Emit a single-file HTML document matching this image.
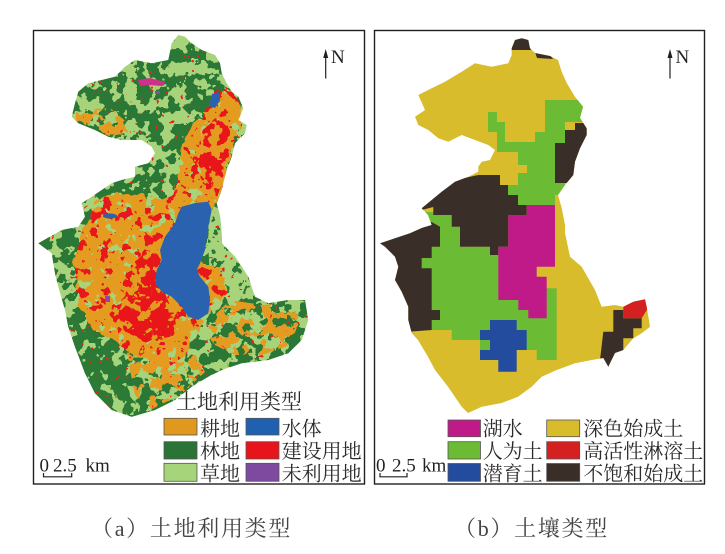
<!DOCTYPE html>
<html><head><meta charset="utf-8">
<style>
html,body{margin:0;padding:0;background:#fff;}
body{width:725px;height:554px;overflow:hidden;}
svg{display:block;}
.cj{font-family:"Liberation Serif","Noto Serif CJK SC",serif;}
</style></head>
<body>
<svg width="725" height="554" viewBox="0 0 725 554" xmlns="http://www.w3.org/2000/svg">
<defs>
  <clipPath id="clipL"><polygon points="178.3,35 185,36.7 191.7,43.3 201.7,50 215,55 220,63.3 221.7,73.3 226.7,83.3 231.7,91.7 238.3,96.7 243.3,108.3 238.3,120 246.7,125 245,133.3 235,143.3 231.7,156.7 226.7,170 221.7,190 216.7,203.3 220,216.7 221.7,233.3 221.7,243.3 235,256.7 248.3,276.7 255,296.7 268.3,303.3 288.3,300 305,300 308.3,320 301.7,340 288.3,353.3 268.3,360 241.7,363.3 221.7,370 208.3,376.7 191.7,386.7 175,400 155,410 131.7,416.7 111.7,410 95,393.3 85,373.3 75,346.7 68.3,326.7 65,310 58.3,286.7 55,273.3 51.7,253.3 38.3,243.3 61.7,230 78.3,226.7 85,216.7 81.7,203.3 91.7,196.7 101.7,190 111.7,183.3 121.7,180 135,176.7 135,166.7 148.3,163.3 155,153.3 151.7,146.7 141.7,140 121.7,140 108.3,136.7 95,130 78.3,123.3 71.7,116.7 75,103.3 78.3,91.7 88.3,83.3 101.7,80 115,76.7 125,66.7 135,60 151.7,63.3 168.3,60 171.7,43.3"/></clipPath>

  <filter id="rough" filterUnits="userSpaceOnUse" x="0" y="0" width="725" height="554" color-interpolation-filters="sRGB">
    <feGaussianBlur in="SourceAlpha" stdDeviation="4" result="b"/>
    <feTurbulence type="fractalNoise" baseFrequency="0.1" numOctaves="2" seed="41" result="n"/>
    <feColorMatrix in="n" type="matrix" values="0 0 0 0 0  0 0 0 0 0  0 0 0 0 0  1 0 0 0 0" result="na"/>
    <feComposite in="b" in2="na" operator="arithmetic" k1="0" k2="1" k3="1" k4="-0.5" result="c"/>
    <feComponentTransfer in="c" result="t"><feFuncA type="discrete" tableValues="0 1"/></feComponentTransfer>
    <feFlood flood-color="#ffffff" result="w"/>
    <feComposite in="w" in2="t" operator="in"/>
  </filter>

  <mask id="mOr" maskUnits="userSpaceOnUse" x="0" y="0" width="725" height="554">
    <polygon filter="url(#rough)" fill="#fff" points="215,93 228,88 240,100 243,115 238,135 232,150 228,170 222,192 217,205 210,215 200,240 198,265 222,267 228,287 222,300 212,308 205,322 198,333 188,350 176,363 162,366 145,360 128,352 118,340 102,336 88,325 80,308 76,290 74,270 76,248 82,235 90,220 94,205 102,196 115,190 140,196 160,200 172,195 180,175 180,150 192,127 205,112"/>
  </mask>
  <mask id="mRedA" maskUnits="userSpaceOnUse" x="0" y="0" width="725" height="554">
    <g filter="url(#rough)" fill="#fff">
      <polygon points="122,298 138,288 160,292 172,305 176,325 166,338 146,342 128,334 118,318"/>
      <polygon points="140,252 158,250 162,265 160,288 146,290 136,275"/>
    </g>
  </mask>
  <mask id="mRedB" maskUnits="userSpaceOnUse" x="0" y="0" width="725" height="554">
    <polygon filter="url(#rough)" fill="#fff" points="205,128 220,118 232,133 228,160 222,185 215,200 205,197 200,172 198,148"/>
  </mask>
  <mask id="mDG" maskUnits="userSpaceOnUse" x="0" y="0" width="725" height="554">
    <polygon filter="url(#rough)" fill="#fff" points="52,312 68,318 85,330 100,338 118,345 126,362 124,382 132,398 140,420 90,420 60,350"/>
  </mask>
  <clipPath id="lgZone"><polygon points="211,205 222,210 225,240 240,262 248,280 240,300 225,310 215,300 210,280 208,240"/></clipPath>
  <clipPath id="mixOr"><polygon points="125,345 190,345 205,372 180,395 150,410 135,395"/></clipPath>
  <clipPath id="eastOr"><polygon points="230,300 262,305 290,303 300,320 290,345 262,355 235,355 215,345 205,335 215,315"/></clipPath>
  <clipPath id="nwOr"><polygon points="76,110 110,108 130,125 125,140 95,132 76,124"/></clipPath>

  <filter id="fDG" filterUnits="userSpaceOnUse" x="33" y="30" width="290" height="400" color-interpolation-filters="sRGB">
    <feTurbulence type="fractalNoise" baseFrequency="0.08" numOctaves="3" seed="4"/>
    <feColorMatrix type="matrix" values="0 0 0 0 0.17  0 0 0 0 0.47  0 0 0 0 0.21  4 0 0 0 -1.45"/>
    <feComponentTransfer><feFuncA type="discrete" tableValues="0 1"/></feComponentTransfer>
  </filter>
  <filter id="fDGs" filterUnits="userSpaceOnUse" x="33" y="30" width="290" height="400" color-interpolation-filters="sRGB">
    <feTurbulence type="fractalNoise" baseFrequency="0.09" numOctaves="3" seed="14"/>
    <feColorMatrix type="matrix" values="0 0 0 0 0.17  0 0 0 0 0.47  0 0 0 0 0.21  4 0 0 0 -1.95"/>
    <feComponentTransfer><feFuncA type="discrete" tableValues="0 1"/></feComponentTransfer>
  </filter>
  <filter id="fLG" filterUnits="userSpaceOnUse" x="33" y="30" width="290" height="400" color-interpolation-filters="sRGB">
    <feTurbulence type="fractalNoise" baseFrequency="0.08" numOctaves="3" seed="9"/>
    <feColorMatrix type="matrix" values="0 0 0 0 0.65  0 0 0 0 0.83  0 0 0 0 0.48  4 0 0 0 -1.85"/>
    <feComponentTransfer><feFuncA type="discrete" tableValues="0 1"/></feComponentTransfer>
  </filter>
  <filter id="fLGs" filterUnits="userSpaceOnUse" x="33" y="30" width="290" height="400" color-interpolation-filters="sRGB">
    <feTurbulence type="fractalNoise" baseFrequency="0.09" numOctaves="3" seed="12"/>
    <feColorMatrix type="matrix" values="0 0 0 0 0.65  0 0 0 0 0.83  0 0 0 0 0.48  4 0 0 0 -2.05"/>
    <feComponentTransfer><feFuncA type="discrete" tableValues="0 1"/></feComponentTransfer>
  </filter>
  <filter id="fRed" filterUnits="userSpaceOnUse" x="33" y="30" width="290" height="400" color-interpolation-filters="sRGB">
    <feTurbulence type="fractalNoise" baseFrequency="0.09" numOctaves="3" seed="21"/>
    <feColorMatrix type="matrix" values="0 0 0 0 0.91  0 0 0 0 0.09  0 0 0 0 0.11  4 0 0 0 -1.98"/>
    <feComponentTransfer><feFuncA type="discrete" tableValues="0 1"/></feComponentTransfer>
  </filter>
  <filter id="fOrA" filterUnits="userSpaceOnUse" x="33" y="30" width="290" height="400" color-interpolation-filters="sRGB">
    <feTurbulence type="fractalNoise" baseFrequency="0.09" numOctaves="3" seed="5"/>
    <feColorMatrix type="matrix" values="0 0 0 0 0.89  0 0 0 0 0.61  0 0 0 0 0.13  4 0 0 0 -1.8"/>
    <feComponentTransfer><feFuncA type="discrete" tableValues="0 1"/></feComponentTransfer>
  </filter>
  <filter id="fOrB" filterUnits="userSpaceOnUse" x="33" y="30" width="290" height="400" color-interpolation-filters="sRGB">
    <feTurbulence type="fractalNoise" baseFrequency="0.09" numOctaves="3" seed="6"/>
    <feColorMatrix type="matrix" values="0 0 0 0 0.89  0 0 0 0 0.61  0 0 0 0 0.13  4 0 0 0 -1.56"/>
    <feComponentTransfer><feFuncA type="discrete" tableValues="0 1"/></feComponentTransfer>
  </filter>
  <filter id="fOr2" filterUnits="userSpaceOnUse" x="33" y="30" width="290" height="400" color-interpolation-filters="sRGB">
    <feTurbulence type="fractalNoise" baseFrequency="0.08" numOctaves="3" seed="17"/>
    <feColorMatrix type="matrix" values="0 0 0 0 0.89  0 0 0 0 0.61  0 0 0 0 0.13  4 0 0 0 -1.62"/>
    <feComponentTransfer><feFuncA type="discrete" tableValues="0 1"/></feComponentTransfer>
  </filter>
  <filter id="fSpeck" filterUnits="userSpaceOnUse" x="33" y="30" width="290" height="400" color-interpolation-filters="sRGB">
    <feTurbulence type="fractalNoise" baseFrequency="0.2" numOctaves="2" seed="31"/>
    <feColorMatrix type="matrix" values="0 0 0 0 0.91  0 0 0 0 0.15  0 0 0 0 0.12  4 0 0 0 -2.5"/>
    <feComponentTransfer><feFuncA type="discrete" tableValues="0 1"/></feComponentTransfer>
  </filter>

  <clipPath id="clipR"><polygon points="511.7,55 511.7,48.3 515,40 521.7,38.3 528.3,40 530,48.3 535,53 550,56 558,60 561.7,71.7 566.7,83 575,96.7 583,106.7 580,118 586.7,128.3 586.7,135 580,148.3 575,161.7 573.3,175 565,185 558,195 561.7,208 565,225 565,233 570,256.7 581.7,266.7 595,290 601.7,306.7 615,305 623.3,306.7 633.3,301.7 645,299.3 646.7,306.7 650,326.7 641.7,333.3 633.3,338.3 623.3,350 615,353 608.3,366.7 603.3,358 591.7,360 575,363.3 556.7,370 541.7,376.7 531.7,386.7 518,396.7 501.7,403 481.7,406.7 468,413 461.7,406.7 448,386.7 435,370 428,356.7 418,340 411.7,333 408.3,320 408.3,306.7 401.7,291.7 395,280 398.3,266.7 395,256.7 385,246.7 380,243.3 395,238.3 410,233.3 421.7,228 431.7,225 428,215 421.7,208.3 431.7,200 441.7,191.7 455,181.7 468.3,176.7 478.3,171.7 478.3,166.7 481.7,161.7 490,160 495,150 488.3,145 475,140 461.7,135 448.3,141.7 438.3,138.3 428.3,130 418.3,125 415,116.7 425,110 418.3,95 431.7,88.3 445,81.7 461.7,71.7 475,63.3 491.7,66.7 508.3,63.3"/></clipPath>
</defs>

<rect x="0" y="0" width="725" height="554" fill="#fff"/>

<!-- LEFT MAP -->
<g clip-path="url(#clipL)">
  <rect x="33" y="30" width="290" height="400" fill="#a7d47b"/>
  <rect x="33" y="30" width="290" height="400" filter="url(#fDG)"/>
  <g clip-path="url(#nwOr)"><rect x="33" y="30" width="290" height="400" filter="url(#fOr2)"/></g>
  <g clip-path="url(#lgZone)">
    <rect x="33" y="30" width="290" height="400" fill="#a7d47b"/>
    <rect x="33" y="30" width="290" height="400" filter="url(#fDGs)"/>
  </g>
  <g mask="url(#mOr)">
    <rect x="33" y="30" width="290" height="400" fill="#e39b20"/>
    <rect x="33" y="30" width="290" height="400" filter="url(#fLGs)"/>
    <rect x="33" y="30" width="290" height="400" filter="url(#fRed)"/>
  </g>
  <g mask="url(#mRedA)">
    <rect x="33" y="30" width="290" height="400" fill="#e8161b"/>
    <rect x="33" y="30" width="290" height="400" filter="url(#fOrA)"/>
  </g>
  <g mask="url(#mRedB)">
    <rect x="33" y="30" width="290" height="400" fill="#e8161b"/>
    <rect x="33" y="30" width="290" height="400" filter="url(#fOrB)"/>
  </g>
  <g mask="url(#mDG)">
    <rect x="33" y="30" width="290" height="400" fill="#2b7a36"/>
    <rect x="33" y="30" width="290" height="400" filter="url(#fLG)"/>
  </g>
  <g clip-path="url(#mixOr)"><rect x="33" y="30" width="290" height="400" filter="url(#fOr2)"/></g>
  <g clip-path="url(#eastOr)"><rect x="33" y="30" width="290" height="400" filter="url(#fOr2)"/></g>
  <rect x="33" y="30" width="290" height="400" filter="url(#fSpeck)"/>
  <!-- lake -->
  <polygon fill="#2a62b0" points="181.7,206.7 195,203 208.3,201.7 211.7,210 208.3,226.7 205,250 200,263.3 196.7,270 200,276.7 208.3,286.7 210,300 208.3,313.3 198.3,320 188.3,316.7 181.7,306.7 171.7,296.7 161.7,291.7 155,283.3 156.7,270 161.7,260 160,250 165,236.7 175,223.3 178.3,213.3"/>
  <polygon fill="#2a62b0" points="212,94 219,92 220,100 215,108 209,106"/>
  <ellipse cx="110" cy="216" rx="7" ry="2.5" fill="#2a62b0"/>
  <polygon fill="#d0308a" points="138,80 150,78 165,82 163,86 148,85 140,86"/>
  <rect x="155" y="91" width="5" height="3" fill="#8a4aa8"/>
  <rect x="105" y="296" width="5" height="6" fill="#8a4aa8"/>
</g>

<!-- RIGHT MAP -->
<g clip-path="url(#clipR)">
  <rect x="374" y="30" width="331" height="400" fill="#d8bc2b"/>
  <polygon fill="#6bbb34" points="488,112 497,112 497,122 505,122 505,142 535,142 535,132 545,132 545,100 595,100 595,122 565,122 565,143 555,143 555,183 565,183 565,195 555,195 555,205 518,205 518,195 508,195 508,185 518,185 518,173 527,173 527,165 518,165 518,152 497,152 497,132 488,132"/>
  <polygon fill="#6bbb34" points="421.7,212 451.7,212 451.7,226.7 460,226.7 460,246.7 500,246.7 500,300 536.7,300 536.7,288.3 556.7,288.3 556.7,360 536.7,360 536.7,350 480,350 480,340 451.7,340 451.7,330 421.7,330"/>
  <polygon fill="#3a2e28" points="400,215 421.7,200 455,180 478.3,175 500,175 500,185 508,185 508,195 518,195 518,205 526.7,205 526.7,215 508.3,215 508.3,246.7 498.3,246.7 498.3,255 490,255 490,246.7 460,246.7 460,226.7 451.7,226.7 451.7,215 433.3,215 433.3,207 421.7,210"/>
  <polygon fill="#3a2e28" points="370,240 431.7,222 440,226.7 440,246.7 431.7,246.7 431.7,258 421.7,258 421.7,268.3 431.7,268.3 431.7,310 440,310 440,320 431.7,320 431.7,330 405,332 370,300"/>
  <polygon fill="#3a2e28" points="575,123 595,123 595,180 570,183 555,183 555,143 565,143 565,130 575,130"/>
  <polygon fill="#c01a88" points="526.7,205 555,205 555,266.7 536.7,266.7 536.7,276.7 546.7,276.7 546.7,318.3 528.3,318.3 528.3,310 518.3,310 518.3,300 498.3,300 498.3,246.7 508.3,246.7 508.3,215 526.7,215"/>
  <polygon fill="#234c9e" points="490,320 516.7,320 516.7,330 526.7,330 526.7,350 516.7,350 516.7,371.7 498.3,371.7 498.3,360 480,360 480,350 490,350 490,340 480,340 480,330 490,330"/>
  <polygon fill="#3a2e28" points="613.3,310 623.3,310 623.3,318.3 641.7,318.3 641.7,328.3 633.3,328.3 633.3,338.3 623.3,338.3 623.3,350 611.7,360 608.3,368 600,360 603.3,331.7 613.3,331.7"/>
  <polygon fill="#d42020" points="623.3,306.7 633.3,301 646,298 648,308.3 641.7,318.3 623.3,318.3"/>
  <polygon fill="#3a2e28" points="510,50 515,38 521.7,36 528.3,38 531,50"/>
  <polygon fill="#3a2e28" points="535,52 550,55 553,59 537,58"/>
</g>

<!-- frames -->
<rect x="33.5" y="30.5" width="331" height="453.5" fill="none" stroke="#231f20" stroke-width="1.4"/>
<rect x="374.5" y="30.5" width="330" height="453.5" fill="none" stroke="#231f20" stroke-width="1.4"/>

<!-- north arrows -->
<g fill="#231f20" stroke="#231f20">
  <line x1="325.7" y1="78.5" x2="325.7" y2="53" stroke-width="1.2"/>
  <polygon points="323.2,58 325.7,49 328.2,58" stroke="none"/>
  <line x1="670" y1="78.5" x2="670" y2="53" stroke-width="1.2"/>
  <polygon points="667.5,58 670,49 672.5,58" stroke="none"/>
</g>
<text x="331" y="63" font-family="Liberation Serif, serif" font-size="19" fill="#231f20">N</text>
<text x="675.5" y="63" font-family="Liberation Serif, serif" font-size="19" fill="#231f20">N</text>

<!-- scale bars -->
<g font-family="Liberation Serif, serif" font-size="19" fill="#231f20">
  <text x="39.5" y="471.5">0</text>
  <text x="53" y="471.5">2.5</text>
  <text x="85.5" y="471.5">km</text>
  <text x="376" y="471.5">0</text>
  <text x="392" y="471.5">2.5</text>
  <text x="422" y="471.5">km</text>
</g>
<g fill="none" stroke="#231f20" stroke-width="1.2">
  <polyline points="43.5,473 43.5,476.8 71.7,476.8 71.7,473"/>
  <polyline points="380,473 380,476.8 407,476.8 407,473"/>
</g>

<!-- left legend -->
<g class="cj" fill="#2b2b2b">
  <text x="176" y="409" font-size="21">土地利用类型</text>
</g>
<g stroke="#555" stroke-width="0.8">
  <rect x="164" y="418.3" width="33" height="16.7" fill="#e0991c"/>
  <rect x="164" y="441.7" width="33" height="17.3" fill="#2a7535"/>
  <rect x="164" y="463.3" width="33" height="18" fill="#a5d47a"/>
  <rect x="246" y="418.3" width="33" height="16.7" fill="#2060b0"/>
  <rect x="246" y="441.7" width="33" height="17.3" fill="#e8141c"/>
  <rect x="246" y="463.3" width="33" height="18" fill="#7d4a9f"/>
</g>
<g class="cj" fill="#2b2b2b" font-size="20">
  <text x="200" y="435.5">耕地</text>
  <text x="200" y="458">林地</text>
  <text x="200" y="480.5">草地</text>
  <text x="281.7" y="435.5">水体</text>
  <text x="281.7" y="458">建设用地</text>
  <text x="281.7" y="480.5">未利用地</text>
</g>

<!-- right legend -->
<g stroke="#555" stroke-width="0.8">
  <rect x="448" y="420" width="32.5" height="16.7" fill="#c01a88"/>
  <rect x="448" y="441.7" width="32.5" height="17.3" fill="#6bbb34"/>
  <rect x="448" y="463.5" width="32.5" height="17.8" fill="#234c9e"/>
  <rect x="546.7" y="420" width="33" height="16.7" fill="#d8bc2b"/>
  <rect x="546.7" y="441.7" width="33" height="17.3" fill="#d42020"/>
  <rect x="546.7" y="463.5" width="33" height="17.8" fill="#3a2e28"/>
</g>
<g class="cj" fill="#2b2b2b" font-size="20">
  <text x="482.7" y="435.5">湖水</text>
  <text x="482.7" y="458">人为土</text>
  <text x="482.7" y="480.5">潜育土</text>
  <text x="583.3" y="435.5">深色始成土</text>
  <text x="583.3" y="458">高活性淋溶土</text>
  <text x="583.3" y="480.5">不饱和始成土</text>
</g>

<!-- captions -->
<g class="cj" fill="#444" font-size="22" letter-spacing="1.7">
  <text x="91" y="536">（a）土地利用类型</text>
  <text x="454" y="536">（b）土壤类型</text>
</g>
</svg>
</body></html>
